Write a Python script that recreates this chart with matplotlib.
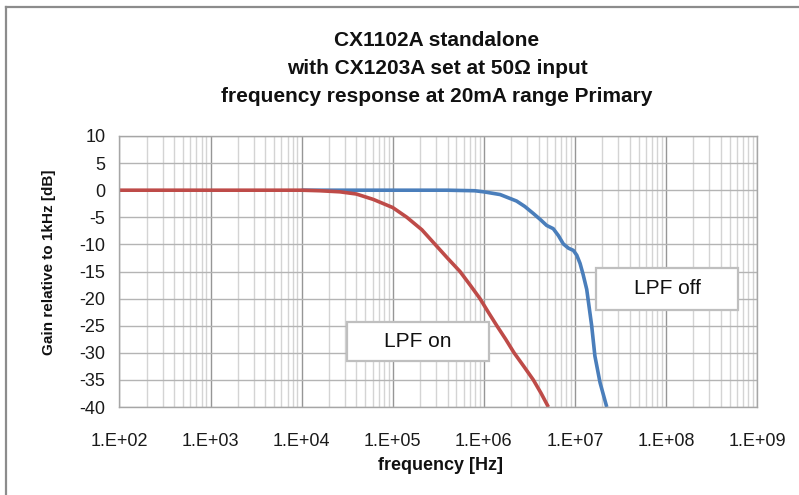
import matplotlib
matplotlib.use("Agg")
import matplotlib.pyplot as plt
from matplotlib.patches import Rectangle
from matplotlib.lines import Line2D
from matplotlib.ticker import LogLocator, FixedLocator, NullFormatter

plt.rcParams['font.family'] = ['Liberation Sans', 'DejaVu Sans']

title_lines = ["CX1102A standalone",
               "with CX1203A set at 50\u03a9 input",
               "frequency response at 20mA range Primary"]

# LPF off (blue)
freq_off = [1e4, 1e5, 3.98e5, 7.94e5, 1.0e6, 1.51e6, 2.29e6, 2.82e6, 3.50e6,
            4.17e6, 4.90e6, 5.79e6, 6.61e6, 7.46e6, 8.51e6, 9.62e6, 1.05e7,
            1.14e7, 1.23e7, 1.35e7, 1.53e7, 1.66e7, 1.89e7, 2.24e7]
gain_off = [0, 0, 0, -0.1, -0.3, -0.8, -2.0, -3.0, -4.3,
            -5.4, -6.5, -7.1, -8.4, -9.9, -10.7, -11.1, -12.0,
            -13.5, -15.5, -18.3, -25.0, -30.6, -35.5, -40.0]

# LPF on (red)
freq_on = [1e2, 1e3, 1e4, 1.58e4, 2.63e4, 3.98e4, 6.12e4, 1.0e5, 1.43e5, 2.09e5,
           2.92e5, 3.98e5, 5.48e5, 7.08e5, 9.08e5, 1.12e6, 1.39e6, 1.74e6,
           2.15e6, 2.75e6, 3.50e6, 4.27e6, 5.12e6]
gain_on = [0, 0, 0, -0.1, -0.3, -0.7, -1.7, -3.2, -5.0, -7.3,
           -10.0, -12.5, -15.0, -17.5, -20.0, -22.5, -25.0, -27.5,
           -30.0, -32.5, -35.0, -37.5, -40.0]

x_ticks = [1e2, 1e3, 1e4, 1e5, 1e6, 1e7, 1e8, 1e9]
x_tick_labels = ["1.E+02", "1.E+03", "1.E+04", "1.E+05", "1.E+06",
                 "1.E+07", "1.E+08", "1.E+09"]
y_ticks = [10, 5, 0, -5, -10, -15, -20, -25, -30, -35, -40]

W, H = 799, 495
fig = plt.figure(figsize=(W / 100, H / 100), dpi=100)
fig.patch.set_facecolor('white')

# outer chart frame (left and top edges)
fig.add_artist(Line2D([6 / W, 6 / W], [0, 1 - 7 / H], transform=fig.transFigure,
                      color='#8c8c8c', lw=1.6))
fig.add_artist(Line2D([6 / W, 1], [1 - 7 / H, 1 - 7 / H], transform=fig.transFigure,
                      color='#8c8c8c', lw=1.6))

left, right, top, bottom = 119.5, 757, 136, 407
ax = fig.add_axes([left / W, 1 - bottom / H, (right - left) / W, (bottom - top) / H])
ax.set_xscale('log')
ax.set_xlim(1e2, 1e9)
ax.set_ylim(-40, 10)

ax.xaxis.set_major_locator(FixedLocator(x_ticks))
ax.set_xticklabels(x_tick_labels)
ax.xaxis.set_minor_locator(LogLocator(base=10, subs=range(2, 10), numticks=20))
ax.xaxis.set_minor_formatter(NullFormatter())
ax.set_yticks(y_ticks)
ax.set_yticklabels([str(v) for v in y_ticks])

ax.grid(which='major', axis='x', color='#969696', lw=1.0)
ax.grid(which='minor', axis='x', color='#d4d4d4', lw=1.0)
ax.grid(which='major', axis='y', color='#b4b4b4', lw=1.0)
ax.set_axisbelow(True)
for s in ax.spines.values():
    s.set_color('#a6a6a6')
    s.set_linewidth(1.0)
ax.tick_params(which='both', length=0)
ax.tick_params(axis='x', labelsize=13, pad=19, colors='#1a1a1a')
ax.tick_params(axis='y', labelsize=13, pad=10, colors='#1a1a1a')

ax.plot(freq_off, gain_off, color='#4a7ebb', lw=2.6, solid_joinstyle='round',
        solid_capstyle='butt', clip_on=True)
ax.plot(freq_on, gain_on, color='#be4b48', lw=2.6, solid_joinstyle='round',
        solid_capstyle='butt', clip_on=True)

# annotation boxes
def label_box(x0, y0, x1, y1, text):
    rect = Rectangle((x0 / W, 1 - y1 / H), (x1 - x0) / W, (y1 - y0) / H,
                     transform=fig.transFigure, facecolor='white',
                     edgecolor='#bfbfbf', lw=1.6, zorder=5)
    fig.add_artist(rect)
    fig.text((x0 + x1) / 2 / W, 1 - (y0 + y1) / 2 / H, text, ha='center',
             va='center', fontsize=15, color='#111111', zorder=6)

label_box(596, 268, 738, 310, "LPF off")
label_box(347, 322, 489, 361, "LPF on")

for i, line in enumerate(title_lines):
    fig.text(437 / W, 1 - (41 + i * 28) / H, line, ha='center', va='center',
             fontsize=15, fontweight='bold', color='#111111')

fig.text(441 / W, 1 - 465 / H, "frequency [Hz]", ha='center', va='center',
         fontsize=13, fontweight='bold', color='#111111')
fig.text(49 / W, 1 - 262 / H, "Gain relative to 1kHz [dB]", ha='center',
         va='center', rotation=90, fontsize=11, fontweight='bold', color='#111111')

fig.savefig("out.png", dpi=100, facecolor='white')
